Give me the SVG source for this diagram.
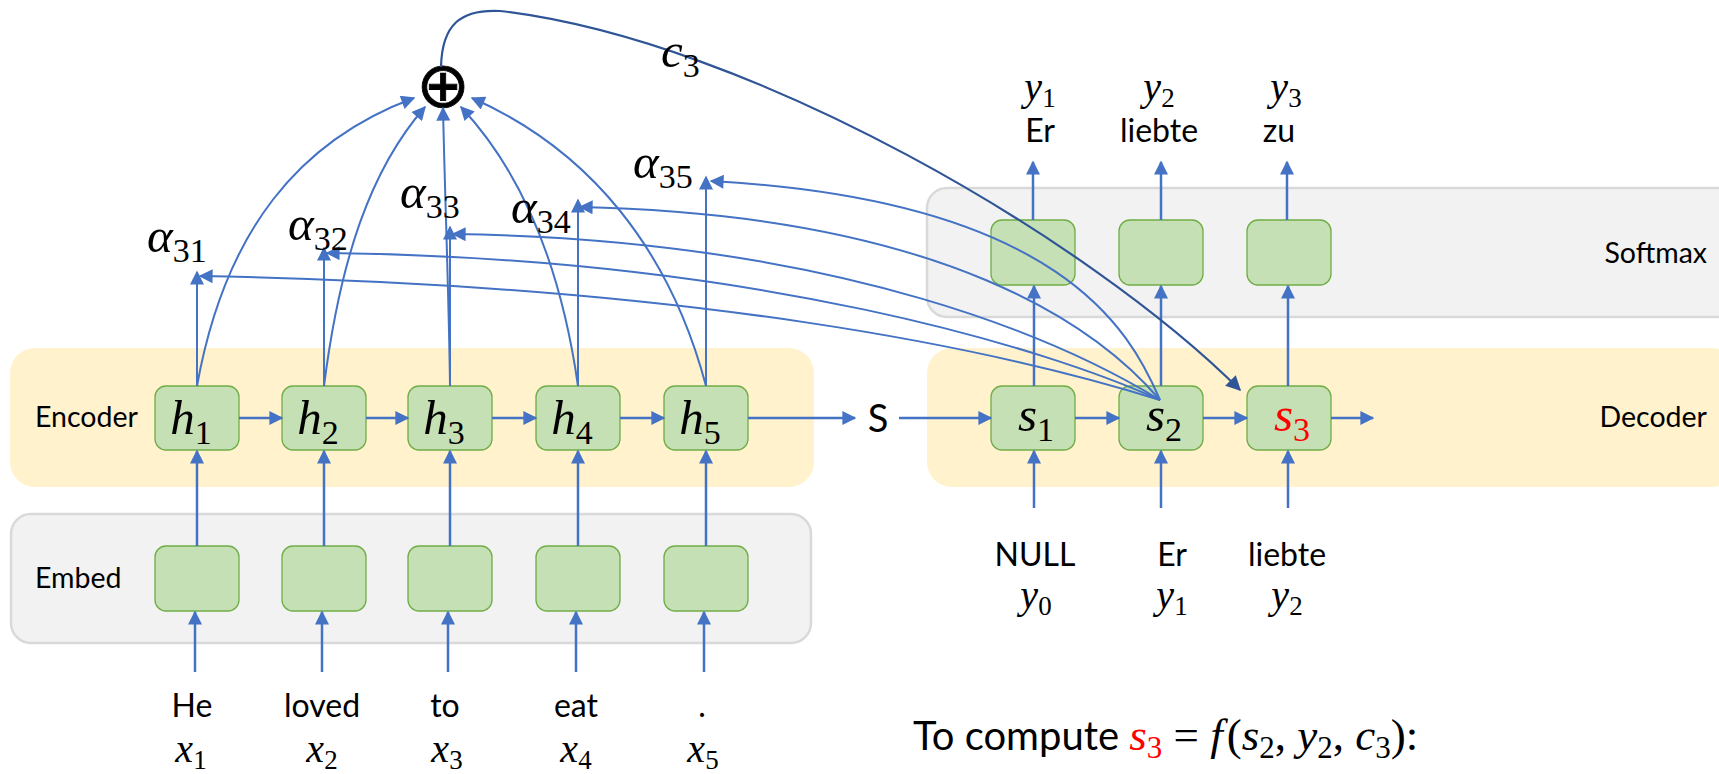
<svg xmlns="http://www.w3.org/2000/svg" width="1719" height="774" viewBox="0 0 1719 774">
<defs>
<marker id="ah" viewBox="0 0 10 10" refX="9" refY="5" markerUnits="userSpaceOnUse" markerWidth="15" markerHeight="14" orient="auto"><path d="M0,0 L10,5 L0,10 z" fill="#4472C4"/></marker>
<marker id="ahd" viewBox="0 0 10 10" refX="9" refY="5" markerUnits="userSpaceOnUse" markerWidth="17" markerHeight="15" orient="auto"><path d="M0,0 L10,5 L0,10 z" fill="#2F5597"/></marker>
<style>
.layerY{fill:#FFF2CC;stroke:none}
.layerG{fill:#F2F2F2;stroke:#D9D9D9;stroke-width:2.5}
.box{fill:#C5E0B4;stroke:#70AD47;stroke-width:1.3}
.ar{fill:none;stroke:#4472C4;stroke-width:2.5;marker-end:url(#ah)}
.at{fill:none;stroke:#4472C4;stroke-width:2;marker-end:url(#ah)}
.c3{fill:none;stroke:#2F5597;stroke-width:2.2;marker-end:url(#ahd)}
.lbl{font-family:Lato,"Liberation Sans",sans-serif;font-size:28.5px;fill:#000}
.word{font-family:Lato,"Liberation Sans",sans-serif;font-size:32px;fill:#000}
.m{font-family:"Liberation Serif",serif;font-style:italic;font-size:49px;fill:#000}
.ms{font-family:"Liberation Serif",serif;font-style:italic;font-size:40px;fill:#000}
.sub{font-style:normal;font-size:34px}
.subs{font-style:normal;font-size:27px}
.red{fill:#FF0000}
.f{font-family:"Liberation Serif",serif;font-size:45px}
.fi{font-style:italic}
.fs{font-size:31px}
</style>
</defs>

<g id="layer-softmax"><rect class="layerG" x="927" y="188" width="810" height="129" rx="20"/><text class="lbl" x="1707" y="263" text-anchor="end">Softmax</text></g>
<g id="layer-encoder"><rect class="layerY" x="10" y="348" width="804" height="139" rx="25"/><text class="lbl" x="35" y="427">Encoder</text></g>
<g id="layer-decoder"><rect class="layerY" x="927" y="348" width="810" height="139" rx="25"/><text class="lbl" x="1707" y="427" text-anchor="end">Decoder</text></g>
<g id="layer-embed"><rect class="layerG" x="11" y="514" width="800" height="129" rx="20"/><text class="lbl" x="35" y="588">Embed</text></g>

<g id="h1"><rect class="box" x="155" y="386" width="84" height="64" rx="11"/><text class="m" x="191" y="434" text-anchor="middle">h<tspan class="sub" dy="10">1</tspan></text></g>
<g id="h2"><rect class="box" x="282" y="386" width="84" height="64" rx="11"/><text class="m" x="318" y="434" text-anchor="middle">h<tspan class="sub" dy="10">2</tspan></text></g>
<g id="h3"><rect class="box" x="408" y="386" width="84" height="64" rx="11"/><text class="m" x="444" y="434" text-anchor="middle">h<tspan class="sub" dy="10">3</tspan></text></g>
<g id="h4"><rect class="box" x="536" y="386" width="84" height="64" rx="11"/><text class="m" x="572" y="434" text-anchor="middle">h<tspan class="sub" dy="10">4</tspan></text></g>
<g id="h5"><rect class="box" x="664" y="386" width="84" height="64" rx="11"/><text class="m" x="700" y="434" text-anchor="middle">h<tspan class="sub" dy="10">5</tspan></text></g>

<g id="e1"><rect class="box" x="155" y="546" width="84" height="65" rx="11"/></g>
<g id="e2"><rect class="box" x="282" y="546" width="84" height="65" rx="11"/></g>
<g id="e3"><rect class="box" x="408" y="546" width="84" height="65" rx="11"/></g>
<g id="e4"><rect class="box" x="536" y="546" width="84" height="65" rx="11"/></g>
<g id="e5"><rect class="box" x="664" y="546" width="84" height="65" rx="11"/></g>

<g id="s1"><rect class="box" x="991" y="386" width="84" height="64" rx="11"/><text class="m" x="1036" y="431" text-anchor="middle">s<tspan class="sub" dy="10">1</tspan></text></g>
<g id="s2"><rect class="box" x="1119" y="386" width="84" height="64" rx="11"/><text class="m" x="1164" y="431" text-anchor="middle">s<tspan class="sub" dy="10">2</tspan></text></g>
<g id="s3"><rect class="box" x="1247" y="386" width="84" height="64" rx="11"/><text class="m red" x="1292" y="431" text-anchor="middle">s<tspan class="sub" dy="10">3</tspan></text></g>

<g id="o1"><rect class="box" x="991" y="220" width="84" height="65" rx="11"/></g>
<g id="o2"><rect class="box" x="1119" y="220" width="84" height="65" rx="11"/></g>
<g id="o3"><rect class="box" x="1247" y="220" width="84" height="65" rx="11"/></g>

<g id="sum"><text x="443" y="85" font-family="DejaVu Sans,sans-serif" font-size="64" text-anchor="middle" dominant-baseline="central" stroke="#000" stroke-width="0.8">⊕</text></g>

<g id="connectors">
<path class="ar" d="M239,418 H282"/>
<path class="ar" d="M366,418 H408"/>
<path class="ar" d="M492,418 H536"/>
<path class="ar" d="M620,418 H664"/>
<path class="ar" d="M748,418 H855"/>
<path class="ar" d="M899,418 H991"/>
<path class="ar" d="M1075,418 H1119"/>
<path class="ar" d="M1203,418 H1247"/>
<path class="ar" d="M1331,418 H1373"/>
<path class="ar" d="M197,546 V451"/>
<path class="ar" d="M324,546 V451"/>
<path class="ar" d="M450,546 V451"/>
<path class="ar" d="M578,546 V451"/>
<path class="ar" d="M706,546 V451"/>
<path class="ar" d="M195,672 V612"/>
<path class="ar" d="M322,672 V612"/>
<path class="ar" d="M448,672 V612"/>
<path class="ar" d="M576,672 V612"/>
<path class="ar" d="M704,672 V612"/>
<path class="ar" d="M1034,508 V451"/>
<path class="ar" d="M1161,508 V451"/>
<path class="ar" d="M1288,508 V451"/>
<path class="ar" d="M1034,386 V286"/>
<path class="ar" d="M1161,386 V286"/>
<path class="ar" d="M1288,386 V286"/>
<path class="ar" d="M1033,220 V162"/>
<path class="ar" d="M1161,220 V162"/>
<path class="ar" d="M1287,220 V162"/>
<path class="at" d="M197,386 V272"/>
<path class="at" d="M324,386 V248"/>
<path class="at" d="M450,386 V227"/>
<path class="at" d="M578,386 V200"/>
<path class="at" d="M706,386 V177"/>
<path class="at" d="M197,386 C225,230 300,140 414,98"/>
<path class="at" d="M324,386 C340,260 370,170 425,107"/>
<path class="at" d="M450,386 C449,300 445,200 443,108"/>
<path class="at" d="M578,386 C560,260 520,170 461,107"/>
<path class="at" d="M706,386 C670,250 590,150 472,98"/>
<path class="at" d="M1160,400 C1000,350 700,285 200,276"/>
<path class="at" d="M1160,400 C1050,350 760,258 327,253"/>
<path class="at" d="M1160,400 C1070,345 850,240 453,234"/>
<path class="at" d="M1160,400 C1100,330 950,215 580,207"/>
<path class="at" d="M1160,400 C1130,330 1060,200 711,181"/>
<path class="c3" d="M441,67 C442,25 460,9 500,11 C750,40 1090,240 1240,390"/>
</g>

<g id="label-c3"><text class="m" x="661" y="67">c<tspan class="sub" dy="10">3</tspan></text></g>

<g id="alphas">
<text class="m" x="147" y="252">α<tspan class="sub" dy="10">31</tspan></text>
<text class="m" x="288" y="240">α<tspan class="sub" dy="10">32</tspan></text>
<text class="m" x="400" y="208">α<tspan class="sub" dy="10">33</tspan></text>
<text class="m" x="511" y="223">α<tspan class="sub" dy="10">34</tspan></text>
<text class="m" x="633" y="178">α<tspan class="sub" dy="10">35</tspan></text>
</g>

<g id="S"><text x="878" y="432" font-family="Lato,'Liberation Sans',sans-serif" font-size="38" text-anchor="middle">S</text></g>

<g id="inputs">
<text class="word" x="192" y="717" text-anchor="middle">He</text>
<text class="word" x="322" y="717" text-anchor="middle">loved</text>
<text class="word" x="445" y="717" text-anchor="middle">to</text>
<text class="word" x="576" y="717" text-anchor="middle">eat</text>
<text class="word" x="702" y="717" text-anchor="middle">.</text>
<text class="ms" x="191" y="762" text-anchor="middle">x<tspan class="subs" dy="7">1</tspan></text>
<text class="ms" x="322" y="762" text-anchor="middle">x<tspan class="subs" dy="7">2</tspan></text>
<text class="ms" x="447" y="762" text-anchor="middle">x<tspan class="subs" dy="7">3</tspan></text>
<text class="ms" x="576" y="762" text-anchor="middle">x<tspan class="subs" dy="7">4</tspan></text>
<text class="ms" x="703" y="762" text-anchor="middle">x<tspan class="subs" dy="7">5</tspan></text>
</g>

<g id="dec-inputs">
<text class="word" x="1035" y="566" text-anchor="middle">NULL</text>
<text class="word" x="1172" y="566" text-anchor="middle">Er</text>
<text class="word" x="1287" y="566" text-anchor="middle">liebte</text>
<text class="ms" x="1036" y="608" text-anchor="middle">y<tspan class="subs" dy="7">0</tspan></text>
<text class="ms" x="1172" y="608" text-anchor="middle">y<tspan class="subs" dy="7">1</tspan></text>
<text class="ms" x="1287" y="608" text-anchor="middle">y<tspan class="subs" dy="7">2</tspan></text>
</g>

<g id="outputs">
<text class="ms" x="1040" y="100" text-anchor="middle">y<tspan class="subs" dy="7">1</tspan></text>
<text class="ms" x="1159" y="100" text-anchor="middle">y<tspan class="subs" dy="7">2</tspan></text>
<text class="ms" x="1286" y="100" text-anchor="middle">y<tspan class="subs" dy="7">3</tspan></text>
<text class="word" x="1040" y="142" text-anchor="middle">Er</text>
<text class="word" x="1159" y="142" text-anchor="middle">liebte</text>
<text class="word" x="1279" y="142" text-anchor="middle">zu</text>
</g>

<g id="formula">
<text x="913" y="750" font-family="Lato,'Liberation Sans',sans-serif" font-size="40" fill="#000">To compute <tspan class="f fi red">s</tspan><tspan class="f fs red" dy="8">3</tspan><tspan class="f" dy="-8"> = </tspan><tspan class="f fi">f</tspan><tspan class="f" dx="4">(</tspan><tspan class="f fi">s</tspan><tspan class="f fs" dy="8">2</tspan><tspan class="f" dy="-8">, </tspan><tspan class="f fi">y</tspan><tspan class="f fs" dy="8">2</tspan><tspan class="f" dy="-8">, </tspan><tspan class="f fi">c</tspan><tspan class="f fs" dy="8">3</tspan><tspan class="f" dy="-8">):</tspan></text>
</g>
</svg>
